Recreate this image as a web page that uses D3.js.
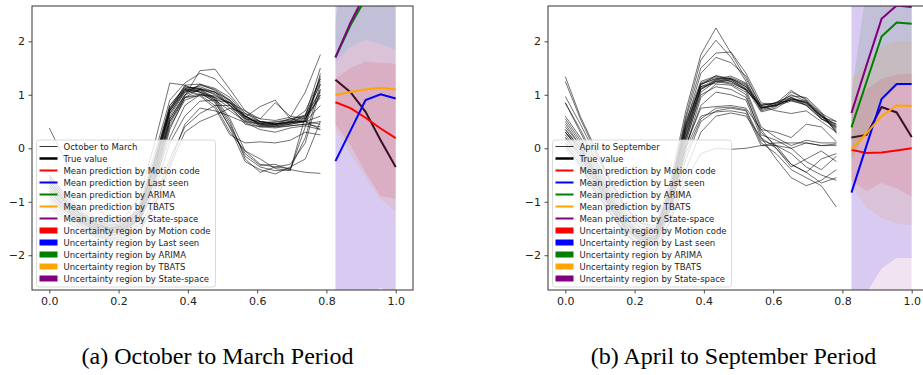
<!DOCTYPE html>
<html>
<head>
<meta charset="utf-8">
<script src="https://cdn.jsdelivr.net/npm/d3@7"></script>
<style>
  body { margin: 0; background: #fff; }
  svg { display: block; }
</style>
</head>
<body>
<svg id="chart" width="923" height="375"></svg>
<script>
// 24 hourly samples on [0, 1]: 19 observed, 5 predicted
const nSteps = 23;
const trainIdx = d3.range(0, 19);
const predIdx = d3.range(19, 24);

const xTicks = [0, 0.2, 0.4, 0.6, 0.8, 1.0];
const yTicks = [-2, -1, 0, 1, 2];

const methods = ["Motion code", "Last seen", "ARIMA", "TBATS", "State-space"];
const methodColors = ["#ff0000", "#0000ff", "#008000", "#ffa500", "#800080"];

// ---- (a) October to March ----
const octMarSeries = [
  [-0.60,-0.95,-1.25,-1.42,-1.50,-1.45,-1.20,-0.35,0.70,1.12,1.15,1.05,0.85,0.58,0.48,0.45,0.50,0.55,1.10],
  [-0.70,-1.05,-1.32,-1.48,-1.55,-1.50,-1.25,-0.45,0.60,1.05,1.18,1.10,0.90,0.60,0.45,0.42,0.48,0.52,1.25],
  [-0.55,-0.90,-1.20,-1.38,-1.45,-1.40,-1.10,-0.20,0.80,1.15,1.12,1.00,0.80,0.55,0.50,0.48,0.55,0.60,1.05],
  [-0.80,-1.10,-1.35,-1.50,-1.60,-1.55,-1.30,-0.50,0.55,1.00,1.20,1.12,0.95,0.62,0.42,0.40,0.45,0.50,1.35],
  [-0.65,-1.00,-1.28,-1.45,-1.52,-1.48,-1.22,-0.40,0.65,1.08,1.10,1.02,0.82,0.52,0.46,0.50,0.52,0.58,0.95],
  [-0.90,-1.20,-1.42,-1.58,-1.65,-1.58,-1.35,-0.55,0.50,0.98,1.45,1.48,1.10,0.70,0.50,0.45,0.55,0.62,1.50],
  [-0.50,-0.85,-1.15,-1.35,-1.42,-1.38,-1.05,-0.10,0.90,1.22,1.40,1.30,1.00,0.65,0.55,0.52,0.58,1.05,1.75],
  [0.38,-0.20,-0.75,-1.10,-1.30,-1.35,-1.15,-0.25,0.75,1.10,1.05,0.95,0.75,0.50,0.45,0.45,0.50,0.50,0.45],
  [-0.75,-1.05,-1.30,-1.45,-1.50,-1.42,-1.15,-0.30,0.70,1.10,1.12,1.05,0.80,0.45,0.40,0.38,0.42,0.45,0.40],
  [-0.60,-0.95,-1.22,-1.40,-1.48,-1.45,-1.18,-0.30,0.72,1.18,1.20,1.08,0.88,0.56,0.47,0.44,0.46,0.62,1.20],
  [-1.00,-1.25,-1.45,-1.60,-1.68,-1.62,-1.40,-0.70,0.35,0.95,1.10,1.05,0.90,0.60,0.50,0.46,0.48,0.50,1.00],
  [-0.85,-1.15,-1.38,-1.52,-1.58,-1.52,-1.28,-0.60,0.40,0.90,1.00,0.98,0.85,0.55,0.42,0.45,0.50,0.70,1.30],
  [-0.95,-1.20,-1.40,-1.55,-1.62,-1.60,-1.45,-0.95,-0.20,0.40,0.65,0.80,0.80,0.60,0.45,0.40,0.42,0.45,0.50],
  [-1.05,-1.30,-1.48,-1.62,-1.70,-1.66,-1.52,-1.05,-0.35,0.30,0.50,0.62,0.75,0.65,0.50,0.45,0.48,0.50,0.35],
  [-0.70,-1.00,-1.25,-1.42,-1.50,-1.48,-1.30,-0.80,0.10,0.60,0.88,0.90,0.85,0.70,0.55,0.85,0.60,0.55,1.00],
  [-0.80,-1.10,-1.35,-1.48,-1.55,-1.50,-1.35,-0.60,0.20,0.80,1.00,0.95,0.85,0.58,0.78,0.90,0.55,0.50,0.60],
  [-0.60,-0.95,-1.22,-1.40,-1.48,-1.42,-1.15,-0.25,0.75,1.15,1.10,0.95,0.55,-0.05,-0.30,-0.35,-0.38,0.20,1.20],
  [-0.70,-1.00,-1.30,-1.45,-1.52,-1.48,-1.20,-0.35,0.65,1.05,1.08,0.90,0.45,-0.15,-0.35,-0.42,-0.40,0.40,1.40],
  [-0.55,-0.90,-1.18,-1.36,-1.44,-1.40,-1.10,-0.20,0.80,1.12,1.05,0.85,0.40,-0.10,-0.32,-0.30,-0.40,-0.45,-0.47],
  [-0.75,-1.08,-1.32,-1.48,-1.55,-1.50,-1.25,-0.45,0.55,1.00,1.10,0.92,0.50,-0.20,-0.45,-0.35,-0.30,0.10,1.10],
  [-0.90,-1.15,-1.38,-1.52,-1.58,-1.55,-1.30,-0.60,0.45,0.95,1.02,0.88,0.38,-0.25,-0.40,-0.48,-0.35,-0.20,0.50],
  [-0.65,-0.98,-1.25,-1.42,-1.50,-1.45,-1.18,-0.30,0.70,1.08,1.00,0.80,0.30,-0.05,-0.20,-0.38,-0.42,0.60,1.30],
  [-0.80,-1.12,-1.36,-1.50,-1.58,-1.54,-1.28,-0.50,0.50,0.95,0.98,0.75,0.25,0.10,0.12,0.10,0.15,0.30,0.25],
  [-0.50,-0.85,-1.10,-1.30,-1.40,-1.30,-0.90,0.10,1.22,1.18,1.05,0.90,0.70,0.50,0.40,0.42,0.45,0.50,0.80],
  [-1.10,-1.35,-1.52,-1.65,-1.72,-1.70,-1.55,-1.10,-0.30,0.45,0.75,0.70,0.60,0.48,0.35,0.30,0.38,0.42,0.35]
];
const octMarTrue = [1.28, 1.05, 0.68, 0.15, -0.35];
const octMarMeans = [
  [0.86, 0.75, 0.57, 0.37, 0.19],   // Motion code
  [-0.24, 0.33, 0.90, 1.01, 0.93],  // Last seen
  [1.70, 2.30, 2.80, 3.00, 3.10],   // ARIMA
  [1.00, 1.05, 1.10, 1.13, 1.10],   // TBATS
  [1.70, 2.35, 2.90, 3.10, 3.20]    // State-space
];
const octMarLower = [
  [0.45, 0.05, -0.45, -0.90, -0.94],
  [-3.50, -3.20, -2.85, -2.60, -2.80],
  [1.60, 1.90, 2.03, 1.95, 1.84],
  [0.35, -0.10, -0.55, -0.95, -1.19],
  [-5, -5, -5, -5, -5]
];
const octMarUpper = [
  [1.30, 1.50, 1.62, 1.60, 1.58],
  [5, 5, 5, 5, 5],
  [2.40, 4.00, 5.00, 5.00, 5.00],
  [1.60, 1.90, 2.03, 1.95, 1.84],
  [5, 5, 5, 5, 5]
];

// ---- (b) April to September ----
const aprSepSeries = [
  [0.30,0.00,-0.50,-1.00,-1.40,-1.60,-1.55,-0.80,0.40,1.20,1.30,1.30,1.15,0.75,0.80,0.95,0.85,0.60,0.40],
  [0.20,-0.10,-0.60,-1.10,-1.50,-1.70,-1.65,-0.90,0.30,1.15,1.28,1.32,1.20,0.72,0.82,1.00,0.88,0.62,0.35],
  [1.34,0.59,0.00,-0.60,-1.10,-1.40,-1.50,-0.70,0.50,1.25,1.35,1.28,1.10,0.80,0.85,0.90,0.80,0.55,0.45],
  [0.05,-0.30,-0.80,-1.20,-1.55,-1.75,-1.70,-1.00,0.20,1.10,1.25,1.30,1.18,0.70,0.78,1.05,0.92,0.65,0.30],
  [0.40,0.05,-0.45,-0.95,-1.35,-1.58,-1.60,-0.85,0.35,1.22,1.33,1.25,1.08,0.78,0.80,0.88,0.82,0.58,0.50],
  [0.85,0.30,-0.25,-0.80,-1.25,-1.50,-1.50,-0.75,0.45,1.20,1.30,1.35,1.22,0.74,0.86,0.98,0.95,0.68,0.28],
  [0.10,-0.20,-0.70,-1.15,-1.50,-1.72,-1.68,-0.95,0.25,1.15,1.22,1.28,1.12,0.68,0.75,0.92,0.86,0.62,0.42],
  [0.97,0.45,-0.10,-0.65,-1.15,-1.45,-1.52,-0.80,0.40,1.18,1.36,1.30,1.15,0.82,0.84,1.08,0.90,0.55,0.38],
  [0.30,-0.05,-0.55,-1.05,-1.45,-1.65,-1.62,-0.88,0.32,1.12,1.26,1.22,1.10,0.76,0.79,0.94,0.84,0.60,0.33],
  [1.25,0.55,-0.05,-0.60,-1.10,-1.40,-1.45,-0.60,0.70,1.75,2.25,1.78,1.30,0.80,0.85,0.95,0.80,0.55,0.40],
  [0.50,0.10,-0.40,-0.90,-1.30,-1.55,-1.55,-0.70,0.60,1.65,2.02,1.70,1.25,0.75,0.82,0.90,0.85,0.60,0.45],
  [0.35,0.00,-0.50,-1.00,-1.40,-1.62,-1.58,-0.78,0.55,1.50,1.78,1.80,1.40,0.85,0.80,0.92,0.88,0.65,0.50],
  [0.15,-0.15,-0.65,-1.12,-1.48,-1.68,-1.66,-0.85,0.45,1.40,1.70,1.60,1.35,0.78,0.70,0.65,0.70,0.50,0.30],
  [0.00,-0.35,-0.85,-1.25,-1.60,-1.80,-1.78,-1.20,-0.20,0.50,0.70,0.75,0.70,0.10,-0.10,-0.40,-0.55,-0.70,-1.10],
  [0.25,-0.10,-0.60,-1.08,-1.48,-1.70,-1.72,-1.10,-0.10,0.55,0.75,0.77,0.72,0.15,0.05,-0.30,-0.45,-0.20,-0.10],
  [0.60,0.20,-0.30,-0.85,-1.30,-1.60,-1.65,-1.05,0.00,0.60,0.68,0.70,0.65,0.05,0.10,0.10,0.10,0.05,0.05],
  [0.10,-0.25,-0.75,-1.20,-1.58,-1.85,-1.95,-1.30,-0.40,0.30,0.60,0.66,0.60,0.20,-0.20,-0.55,-0.70,-0.60,-0.40],
  [0.45,0.05,-0.45,-0.95,-1.40,-1.65,-1.70,-1.00,0.15,1.00,1.15,1.10,0.95,0.30,0.05,-0.10,-0.35,-0.50,-0.60],
  [0.20,-0.15,-0.65,-1.12,-1.52,-1.75,-1.80,-1.15,0.00,0.95,1.20,1.18,1.00,0.25,0.15,0.00,-0.25,-0.40,-0.15],
  [0.05,-0.30,-0.80,-1.22,-1.60,-1.85,-1.90,-1.35,-0.60,-0.10,0.00,-0.02,0.00,0.05,0.05,0.00,0.10,0.05,0.08],
  [0.35,0.00,-0.50,-1.00,-1.42,-1.66,-1.70,-1.05,0.05,0.80,1.05,1.00,0.90,0.20,0.00,-0.35,-0.20,-0.05,-0.25],
  [0.85,0.35,-0.20,-0.75,-1.20,-1.50,-1.55,-0.90,0.20,1.10,1.28,1.25,1.10,0.40,0.20,0.05,0.15,0.10,0.10],
  [0.30,-0.05,-0.55,-1.05,-1.45,-1.70,-1.75,-1.10,0.10,1.05,1.25,1.20,1.05,0.35,0.00,-0.30,-0.45,-0.65,-0.55],
  [0.55,0.15,-0.35,-0.90,-1.35,-1.62,-1.66,-1.02,0.05,0.75,0.78,0.80,0.75,0.35,0.30,0.20,0.45,0.40,0.12]
];
const aprSepTrue = [0.20, 0.25, 0.77, 0.67, 0.21];
const aprSepMeans = [
  [-0.03, -0.09, -0.08, -0.04, 0.00],
  [-0.83, 0.05, 0.92, 1.20, 1.20],
  [0.39, 1.24, 2.09, 2.35, 2.33],
  [-0.02, 0.28, 0.60, 0.80, 0.79],
  [0.66, 1.55, 2.42, 2.67, 2.64]
];
const aprSepLower = [
  [-0.60, -0.80, -0.65, -0.75, -0.90],
  [-3.20, -2.70, -2.25, -2.05, -2.05],
  [-0.20, 0.30, 0.95, 1.15, 1.20],
  [-0.72, -1.10, -1.31, -1.40, -1.44],
  [-5, -5, -5, -5, -5]
];
const aprSepUpper = [
  [0.80, 1.10, 1.30, 1.38, 1.40],
  [5, 5, 5, 5, 5],
  [1.00, 3.00, 4.50, 5.00, 5.00],
  [1.30, 1.60, 1.90, 2.00, 2.00],
  [5, 5, 5, 5, 5]
];

const svg = d3.select("#chart");
const axH = { top: 6, bottom: 290 };
const axW = 381;

function drawPanel(id, left, series, trueVals, means, lows, highs, periodLabel, caption) {
  const x = d3.scaleLinear().domain([-0.05, 1.05]).range([left, left + axW]);
  const y = d3.scaleLinear().domain([-2.65, 2.66]).range([axH.bottom, axH.top]);
  const tx = i => x(i / nSteps);

  svg.append("clipPath").attr("id", "clip-" + id)
    .append("rect").attr("x", left).attr("y", axH.top)
    .attr("width", axW).attr("height", axH.bottom - axH.top);

  const g = svg.append("g").attr("clip-path", `url(#clip-${id})`);

  const line = d3.line().x(d => tx(d[0])).y(d => y(d[1]));

  // observed days
  series.forEach(s => {
    g.append("path")
      .attr("d", line(s.map((v, k) => [trainIdx[k], v])))
      .attr("fill", "none").attr("stroke", "#000")
      .attr("stroke-width", 0.75).attr("stroke-opacity", 0.75);
  });

  // true value
  g.append("path")
    .attr("d", line(trueVals.map((v, k) => [predIdx[k], v])))
    .attr("fill", "none").attr("stroke", "#000").attr("stroke-width", 2);

  // uncertainty regions
  const area = d3.area().x(d => tx(d[0])).y0(d => y(d[1])).y1(d => y(d[2]));
  methods.forEach((m, j) => {
    g.append("path")
      .attr("d", area(predIdx.map((i, k) => [i, lows[j][k], highs[j][k]])))
      .attr("fill", methodColors[j]).attr("fill-opacity", 0.11);
  });

  // mean predictions
  methods.forEach((m, j) => {
    g.append("path")
      .attr("d", line(means[j].map((v, k) => [predIdx[k], v])))
      .attr("fill", "none").attr("stroke", methodColors[j]).attr("stroke-width", 2);
  });

  // axes
  const xAxis = svg.append("g").attr("transform", `translate(0,${axH.bottom})`)
    .call(d3.axisBottom(x).tickValues(xTicks).tickFormat(d3.format(".1f")).tickSize(3.5).tickPadding(3.5));
  const yAxis = svg.append("g").attr("transform", `translate(${left},0)`)
    .call(d3.axisLeft(y).tickValues(yTicks).tickFormat(d3.format("d")).tickSize(3.5).tickPadding(3.5));
  [xAxis, yAxis].forEach(a => {
    a.select(".domain").remove();
    a.selectAll("line").attr("stroke", "#222").attr("stroke-width", 0.8);
    a.selectAll("text").attr("font-family", "DejaVu Sans").attr("font-size", 11).attr("fill", "#222");
  });

  svg.append("rect")
    .attr("x", left).attr("y", axH.top)
    .attr("width", axW).attr("height", axH.bottom - axH.top)
    .attr("fill", "none").attr("stroke", "#333").attr("stroke-width", 1);

  // legend
  const lx = left + 4.5, ly = 140, lw = 179, lh = 147, rowH = 12;
  const leg = svg.append("g");
  leg.append("rect")
    .attr("x", lx).attr("y", ly).attr("width", lw).attr("height", lh)
    .attr("rx", 2.5).attr("fill", "#fff").attr("fill-opacity", 0.8)
    .attr("stroke", "#d0d0d0").attr("stroke-width", 0.8);

  const items = [
    { label: periodLabel, kind: "line", color: "#000", w: 0.8 },
    { label: "True value", kind: "line", color: "#000", w: 2.5 }
  ].concat(
    methods.map((m, j) => ({ label: "Mean prediction by " + m, kind: "line", color: methodColors[j], w: 2 })),
    methods.map((m, j) => ({ label: "Uncertainty region by " + m, kind: "patch", color: methodColors[j] }))
  );

  items.forEach((it, k) => {
    const cy = ly + 6.5 + k * rowH;
    if (it.kind === "line") {
      leg.append("line").attr("x1", lx + 3).attr("x2", lx + 21)
        .attr("y1", cy).attr("y2", cy)
        .attr("stroke", it.color).attr("stroke-width", it.w);
    } else {
      leg.append("rect").attr("x", lx + 3).attr("y", cy - 3)
        .attr("width", 18).attr("height", 6).attr("fill", it.color);
    }
    leg.append("text").attr("x", lx + 27).attr("y", cy)
      .attr("dy", "0.36em")
      .attr("font-family", "DejaVu Sans").attr("font-size", 8.5).attr("fill", "#222")
      .text(it.label);
  });

  svg.append("text")
    .attr("x", left + axW / 2 - 5).attr("y", 364)
    .attr("text-anchor", "middle")
    .attr("font-family", "Liberation Serif").attr("font-size", 24).attr("fill", "#000")
    .text(caption);
}

drawPanel("a", 32, octMarSeries, octMarTrue, octMarMeans, octMarLower, octMarUpper,
  "October to March", "(a) October to March Period");
drawPanel("b", 548, aprSepSeries, aprSepTrue, aprSepMeans, aprSepLower, aprSepUpper,
  "April to September", "(b) April to September Period");
</script>
</body>
</html>
